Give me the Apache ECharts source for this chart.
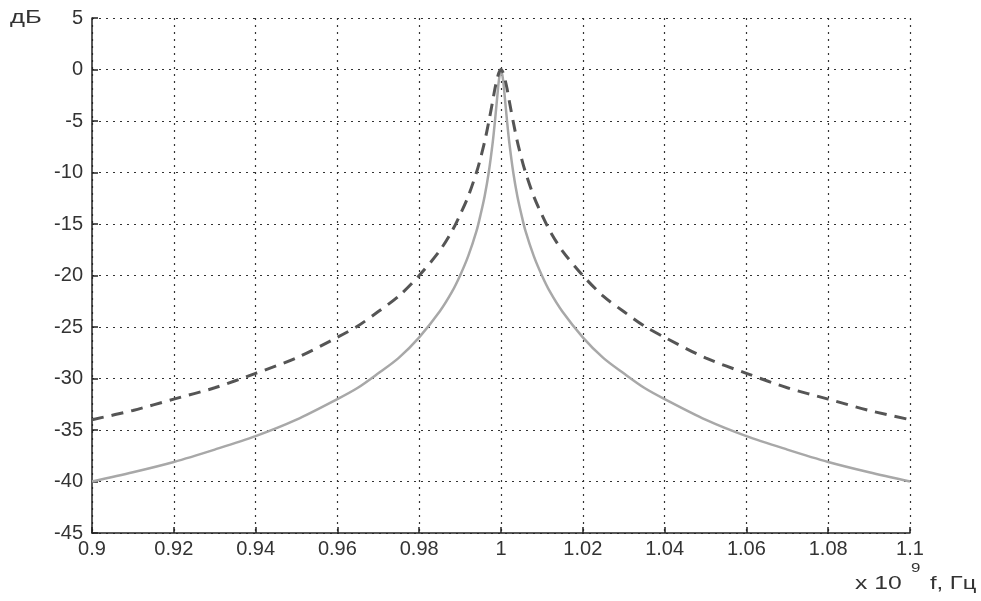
<!DOCTYPE html>
<html>
<head>
<meta charset="utf-8">
<script src="https://cdn.jsdelivr.net/npm/echarts@6/dist/echarts.min.js"></script>
<style>
  html, body { margin: 0; padding: 0; background: #fff; }
  #chart { width: 981px; height: 601px; }
</style>
</head>
<body>
<div id="chart"></div>
<script>
// frequency, x 10^9 Hz
var freq = [0.9, 0.91, 0.92, 0.93, 0.94, 0.95, 0.96, 0.965, 0.97, 0.975, 0.98, 0.985, 0.988, 0.99, 0.992, 0.994, 0.995, 0.996, 0.997, 0.998, 0.9985, 0.999, 0.9995,
            1.0,
            1.0005, 1.001, 1.0015, 1.002, 1.003, 1.004, 1.005, 1.006, 1.008, 1.01, 1.012, 1.015, 1.02, 1.025, 1.03, 1.035, 1.04, 1.05, 1.06, 1.07, 1.08, 1.09, 1.1];
// dashed (wider) curve, dB
var dashedDb = [-34.0, -33.1, -32.0, -30.9, -29.5, -28.0, -26.0, -24.9, -23.5, -22.0, -20.0, -17.6, -15.7, -14.1, -12.3, -10.0, -8.6, -7.0, -5.1, -3.0, -1.9, -1.0, -0.3,
                0,
                -0.3, -1.0, -1.9, -3.0, -5.1, -7.0, -8.6, -10.0, -12.3, -14.1, -15.7, -17.6, -20.0, -22.0, -23.5, -24.9, -26.0, -28.0, -29.5, -30.9, -32.0, -33.1, -34.0];
// solid (narrow) curve, dB
var solidDb = [-40.0, -39.1, -38.1, -36.9, -35.6, -34.0, -32.0, -30.9, -29.5, -28.0, -26.0, -23.5, -21.6, -20.0, -18.1, -15.7, -14.1, -12.3, -10.0, -7.0, -5.1, -3.0, -1.0,
               0,
               -1.0, -3.0, -5.1, -7.0, -10.0, -12.3, -14.1, -15.7, -18.1, -20.0, -21.6, -23.5, -26.0, -28.0, -29.5, -30.9, -32.0, -34.0, -35.6, -36.9, -38.1, -39.1, -40.0];

var dashedData = freq.map(function (f, i) { return [f, dashedDb[i]]; });
var solidData = freq.map(function (f, i) { return [f, solidDb[i]]; });

var chart = echarts.init(document.getElementById('chart'));
var labelFont = { fontFamily: 'Liberation Sans', fontSize: 20, color: '#333' };
var textFont = '19px "Liberation Sans"';

var option = {
    backgroundColor: '#fff',
    animation: false,
    grid: { left: 92, right: 71, top: 18, bottom: 68 },
    xAxis: {
        type: 'value',
        min: 0.9,
        max: 1.1,
        interval: 0.02,
        axisLine: { onZero: false, lineStyle: { color: '#222', width: 1.5 } },
        axisTick: { inside: true, length: 6, lineStyle: { color: '#222', width: 1.5 } },
        axisLabel: Object.assign({ margin: 6, formatter: function (v) { return String(+v.toFixed(2)); } }, labelFont),
        splitLine: { show: true, lineStyle: { color: '#333', type: [2, 5], width: 1.2 } }
    },
    yAxis: {
        type: 'value',
        min: -45,
        max: 5,
        interval: 5,
        axisLine: { show: true, lineStyle: { color: '#222', width: 1.5 } },
        axisTick: { show: true, inside: true, length: 6, lineStyle: { color: '#222', width: 1.5 } },
        axisLabel: Object.assign({ margin: 9 }, labelFont),
        splitLine: { show: true, lineStyle: { color: '#333', type: [2, 5], width: 1.2 } }
    },
    graphic: [
        { type: 'text', x: 10, y: 8, scaleX: 1.35, style: { text: 'дБ', font: textFont, fill: '#333' } },
        { type: 'text', x: 855, y: 574, scaleX: 1.3, style: { text: 'x 10', font: textFont, fill: '#333' } },
        { type: 'text', x: 911, y: 562, scaleX: 1.3, style: { text: '9', font: '13px "Liberation Sans"', fill: '#333' } },
        { type: 'text', x: 930, y: 574, scaleX: 1.25, style: { text: 'f, Гц', font: textFont, fill: '#333' } }
    ],
    series: [
        {
            type: 'line',
            data: solidData,
            showSymbol: false,
            smooth: 0.3,
            lineStyle: { color: '#a8a8a8', width: 2.5 },
            z: 2
        },
        {
            type: 'line',
            data: dashedData,
            showSymbol: false,
            smooth: 0.3,
            lineStyle: { color: '#555', width: 3, type: [12, 8] },
            z: 3
        }
    ]
};

chart.setOption(option);
</script>
</body>
</html>
